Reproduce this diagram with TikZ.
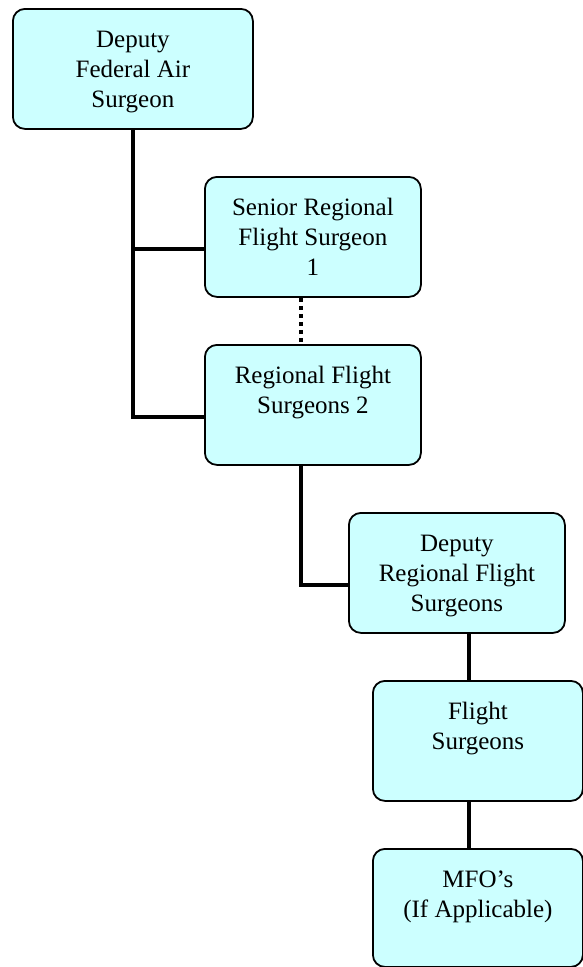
\documentclass[tikz,border=0pt]{standalone}
\usepackage{fontspec}
\setmainfont{Liberation Serif}
\usepackage{xcolor}
\definecolor{orgcyan}{RGB}{204,255,255}
\tikzstyle{conn} = [line width=4.5pt, color=black]
\tikzstyle{dotconn} = [line width=4.5pt, color=black, dash pattern=on 4pt off 4pt]
\tikzstyle{orgbox} = [rectangle, rounded corners=12pt, draw=black, fill=orgcyan, line width=1.8pt, inner sep=0pt, anchor=north west]
\newcommand{\orglines}[3]{\parbox[c][#2][t]{#1}{\centering\fontsize{25}{30}\selectfont\rule{0pt}{39pt}#3}}

\begin{document}
\begin{tikzpicture}[x=1pt, y=1pt]
\useasboundingbox (0,0) rectangle (583,-967);
% Boxes
\node[orgbox] (dfas) at (12,-8) {\orglines{240pt}{120pt}{Deputy\\Federal Air\\Surgeon}};
\node[orgbox] (srfs) at (204,-176) {\orglines{216pt}{120pt}{Senior Regional\\Flight Surgeon\\1}};
\node[orgbox] (rfs) at (204,-344) {\orglines{216pt}{120pt}{Regional Flight\\Surgeons 2}};
\node[orgbox] (drfs) at (348,-512) {\orglines{216pt}{120pt}{Deputy\\Regional Flight\\Surgeons}};
\node[orgbox] (fs) at (372,-680) {\orglines{210pt}{120pt}{Flight\\Surgeons}};
\node[orgbox] (mfo) at (372,-848) {\orglines{210pt}{118pt}{MFO’s\\(If Applicable)}};

% Connectors
\coordinate (srfsin) at ([yshift=-12pt]srfs.west);
\coordinate (rfsin) at ([yshift=-12pt]rfs.west);
\coordinate (srfsout) at ([xshift=-12pt]srfs.south);
\coordinate (rfsout) at ([xshift=-12pt]rfs.south);
\coordinate (drfsin) at ([yshift=-12pt]drfs.west);
\coordinate (drfsout) at ([xshift=12pt]drfs.south);

\draw[conn] (dfas.south) |- (rfsin);
\draw[conn] (dfas.south |- srfsin) -- (srfsin);
\draw[dotconn] (srfsout) -- (srfsout |- rfs.north);
\draw[conn] (rfsout) |- (drfsin);
\draw[conn] (drfsout) -- (drfsout |- fs.north);
\draw[conn] (drfsout |- fs.south) -- (drfsout |- mfo.north);
\end{tikzpicture}
\end{document}
